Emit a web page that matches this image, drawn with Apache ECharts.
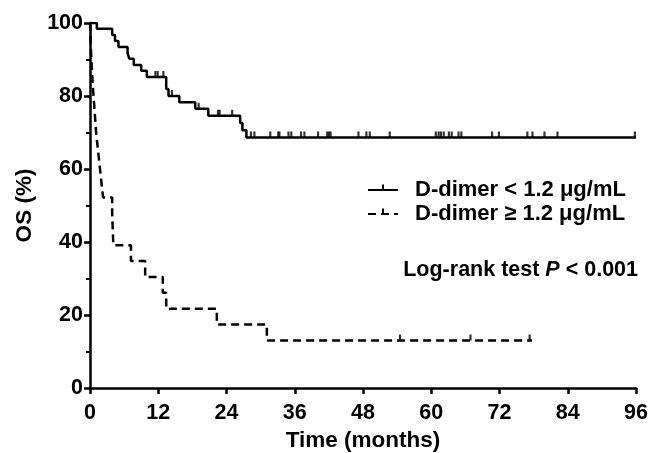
<!DOCTYPE html>
<html>
<head>
<meta charset="utf-8">
<script src="https://cdn.jsdelivr.net/npm/echarts@6/dist/echarts.min.js"></script>
<style>
  html, body { margin: 0; padding: 0; background: #fff; }
  #chart { width: 649px; height: 453px; }
</style>
</head>
<body>
<div id="chart"></div>
<script>
// Kaplan-Meier steps, D-dimer < 1.2 ug/mL
const lowTime = [0, 1.2, 3.9, 4.4, 5.0, 6.6, 6.9, 7.7, 9.0, 10.0, 13.4, 13.8, 15.7, 18.5, 20.8, 26.4, 26.8, 27.5, 96];
const lowSurv = [100, 98.4, 96.7, 95.1, 93.4, 91.8, 90.2, 88.5, 86.9, 85.2, 81.9, 80.0, 78.3, 76.5, 74.6, 72.6, 70.6, 68.6, 68.6];
const lowCensorTime = [11.5, 11.9, 12.9, 14.4, 19.1, 22.5, 22.8, 25.0,
  28.3, 28.9, 31.7, 33.1, 33.3, 34.9, 35.4, 37.1, 37.7, 40.1, 41.7, 42.0, 42.3, 47.2, 48.6, 49.2, 52.7,
  60.8, 61.3, 61.7, 62.2, 63.1, 63.6, 64.8, 65.3, 70.7, 71.9, 76.9, 77.8, 79.9, 82.2, 95.8];
const lowCensorSurv = [85.2, 85.2, 85.2, 80.0, 76.5, 74.6, 74.6, 74.6,
  68.6, 68.6, 68.6, 68.6, 68.6, 68.6, 68.6, 68.6, 68.6, 68.6, 68.6, 68.6, 68.6, 68.6, 68.6, 68.6, 68.6,
  68.6, 68.6, 68.6, 68.6, 68.6, 68.6, 68.6, 68.6, 68.6, 68.6, 68.6, 68.6, 68.6, 68.6, 68.6];

// D-dimer >= 1.2 ug/mL
const highTime = [0, 0.1, 0.2, 0.35, 0.5, 0.7, 0.9, 1.1, 1.4, 1.7, 2.0, 2.3, 3.9, 4.0, 4.1, 7.2, 9.7, 12.8, 13.4, 22.3, 31.1, 77.7];
const highSurv = [100, 95.7, 91.3, 87.0, 82.6, 78.3, 73.9, 69.6, 65.2, 60.9, 56.5, 52.2, 47.8, 43.5, 39.1, 34.8, 30.4, 26.1, 21.7, 17.4, 13.0, 13.0];
const highCensorTime = [54.5, 66.9, 77.3];
const highCensorSurv = [13.0, 13.0, 13.0];

const xTicks = { min: 0, max: 96, interval: 12 };
const yTicks = { min: 0, max: 100, interval: 20 };

const seriesNames = ['D-dimer < 1.2 \u03bcg/mL', 'D-dimer \u2265 1.2 \u03bcg/mL'];

// thin vertical tick in the upper half of its box (censor mark)
const tick = 'path://M0,10h0.01v0.01h-0.01z M4.1,0h1.8v5h-1.8z M9.99,10h0.01v0.01h-0.01z';
const font = 'Liberation Sans, Arial, sans-serif';

function zip(a, b) {
  let out = [];
  for(let i = 0; i < a.length; i++) {
    out.push([a[i], b[i]]);
  }
  return out;
}

let chart = echarts.init(document.getElementById('chart'));

chart.setOption({
  animation: false,
  grid: {
    left: 90,
    right: 13,
    top: 23,
    bottom: 65,
    outerBoundsMode: 'none',
  },
  xAxis: {
    type: 'value',
    min: xTicks.min,
    max: xTicks.max,
    interval: xTicks.interval,
    name: 'Time (months)',
    nameLocation: 'middle',
    nameGap: 40,
    nameTextStyle: { color: '#000', fontSize: 22.5, fontWeight: 'bold', fontFamily: font },
    axisLine: { lineStyle: { color: '#000', width: 2.5 } },
    axisTick: { length: 6, lineStyle: { color: '#000', width: 2.5 } },
    axisLabel: { color: '#000', fontSize: 21.5, fontWeight: 'bold', fontFamily: font, margin: 14 },
    splitLine: { show: false },
  },
  yAxis: {
    type: 'value',
    min: yTicks.min,
    max: yTicks.max,
    interval: yTicks.interval,
    name: 'OS (%)',
    nameLocation: 'middle',
    nameGap: 53,
    nameTextStyle: { color: '#000', fontSize: 22.5, fontWeight: 'bold', fontFamily: font },
    axisLine: { show: true, lineStyle: { color: '#000', width: 2.5 } },
    axisTick: { show: true, length: 6, lineStyle: { color: '#000', width: 2.5 } },
    minorTick: { show: true, splitNumber: 2, length: 4, lineStyle: { color: '#000', width: 2 } },
    axisLabel: { color: '#000', fontSize: 21.5, fontWeight: 'bold', fontFamily: font, margin: 7 },
    splitLine: { show: false },
  },
  legend: {
    orient: 'vertical',
    left: 362,
    top: 174,
    itemWidth: 30,
    itemHeight: 14,
    itemGap: 2,
    data: seriesNames,
    textStyle: { color: '#000', fontSize: 22, fontWeight: 'bold', fontFamily: font, padding: [0, 0, 0, 12] },
  },
  graphic: [{
    type: 'text',
    right: 11,
    top: 259,
    style: {
      text: '{a|Log-rank test }{p|P}{a| < 0.001}',
      rich: {
        a: { fontSize: 21.5, fontWeight: 'bold', fontFamily: font, fill: '#000' },
        p: { fontSize: 21.5, fontWeight: 'bold', fontStyle: 'italic', fontFamily: font, fill: '#000' },
      },
    },
  }],
  series: [
    {
      name: seriesNames[0],
      type: 'line',
      step: 'end',
      data: zip(lowTime, lowSurv),
      showSymbol: false,
      symbol: tick,
      itemStyle: { color: '#000' },
      lineStyle: { color: '#000', width: 2.5 },
      z: 3,
    },
    {
      name: seriesNames[1],
      type: 'line',
      step: 'end',
      data: zip(highTime, highSurv),
      showSymbol: false,
      symbol: tick,
      itemStyle: { color: '#000' },
      lineStyle: { color: '#000', width: 2.5, type: [8, 5] },
      z: 3,
    },
    {
      type: 'scatter',
      data: zip(lowCensorTime, lowCensorSurv),
      symbol: tick,
      symbolSize: 12,
      itemStyle: { color: '#000' },
      silent: true,
    },
    {
      type: 'scatter',
      data: zip(highCensorTime, highCensorSurv),
      symbol: tick,
      symbolSize: 12,
      itemStyle: { color: '#000' },
      silent: true,
    },
  ],
});
</script>
</body>
</html>
